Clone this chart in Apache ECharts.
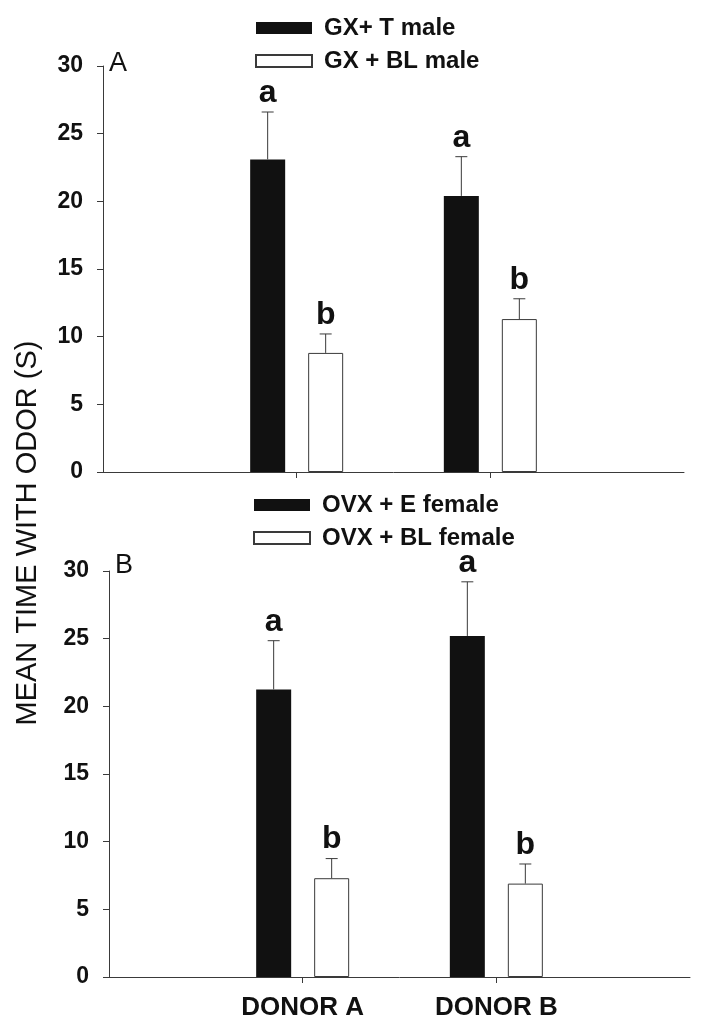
<!DOCTYPE html>
<html>
<head>
<meta charset="utf-8">
<style>
  html, body { margin: 0; padding: 0; background: #fff; }
  #chart { width: 704px; height: 1029px; }
</style>
<script src="https://cdn.jsdelivr.net/npm/echarts@6/dist/echarts.min.js"></script>
</head>
<body>
<div id="chart"></div>
<script>
// ---------- data ----------
const categories = ['DONOR A', 'DONOR B'];
const yMin = 0, yMax = 30, yStep = 5;

// Panel A (males)
const seriesANames = ['GX+ T male', 'GX + BL male'];
const gxT_mean  = [23.1, 20.4];
const gxT_sem   = [3.5, 2.9];
const gxBL_mean = [8.8, 11.3];
const gxBL_sem  = [1.4, 1.5];
const lettersA_T  = ['a', 'a'];
const lettersA_BL = ['b', 'b'];

// Panel B (females)
const seriesBNames = ['OVX + E female', 'OVX + BL female'];
const ovxE_mean  = [21.25, 25.2];
const ovxE_sem   = [3.6, 4.0];
const ovxBL_mean = [7.3, 6.9];
const ovxBL_sem  = [1.45, 1.45];
const lettersB_E  = ['a', 'a'];
const lettersB_BL = ['b', 'b'];

const yTitle = 'MEAN TIME WITH ODOR (S)';

// ---------- styling ----------
const FONT = '"Liberation Sans", Arial, sans-serif';
const INK = '#111';
const AXIS = '#3a3a3a';
const BAR_W = 35, BAR_GAP = 23;
const OFFSET = (BAR_W + BAR_GAP) / 2;

// padded category axis: empty slots at both ends
const axisCats = [''].concat(categories, ['']);
const pad = arr => [null].concat(arr, [null]);
const isReal = i => i >= 1 && i <= categories.length;

function xAxisFor(gridIndex, showLabels) {
  return {
    type: 'category', gridIndex, data: axisCats, boundaryGap: false,
    axisLine: { lineStyle: { color: AXIS, width: 1 } },
    axisTick: { show: true, length: 6, interval: (i) => isReal(i), lineStyle: { color: AXIS } },
    axisLabel: {
      show: showLabels, interval: (i) => isReal(i), margin: 18,
      color: INK, fontFamily: FONT, fontWeight: 'bold', fontSize: 26
    },
    splitLine: { show: false }
  };
}
function yAxisFor(gridIndex) {
  return {
    type: 'value', gridIndex, min: yMin, max: yMax, interval: yStep,
    axisLine: { show: true, lineStyle: { color: AXIS, width: 1 } },
    axisTick: { show: true, length: 6, lineStyle: { color: AXIS } },
    axisLabel: { margin: 20, color: INK, fontFamily: FONT, fontWeight: 'bold', fontSize: 23 },
    splitLine: { show: false }
  };
}

function barSeries(name, values, idx, white) {
  return {
    name, type: 'bar', xAxisIndex: idx, yAxisIndex: idx,
    data: pad(values), barWidth: BAR_W, barGap: (BAR_GAP / BAR_W * 100) + '%',
    itemStyle: white
      ? { color: '#fff', borderColor: AXIS, borderWidth: 1 }
      : { color: INK, borderColor: INK, borderWidth: 0 },
    emphasis: { disabled: true }, z: 2
  };
}

function errSeries(means, sems, letters, idx, sign) {
  const data = categories.map((c, i) => [i + 1, means[i], sems[i]]);
  return {
    type: 'custom', xAxisIndex: idx, yAxisIndex: idx, z: 5, silent: true,
    data,
    renderItem: function (params, api) {
      const ci = api.value(0), m = api.value(1), s = api.value(2);
      const base = api.coord([ci, m]);
      const top = api.coord([ci, m + s]);
      const x = base[0] + sign * OFFSET;
      const cap = 6;
      return {
        type: 'group',
        children: [
          { type: 'line', shape: { x1: x, y1: base[1], x2: x, y2: top[1] }, style: { stroke: AXIS, lineWidth: 1 } },
          { type: 'line', shape: { x1: x - cap, y1: top[1], x2: x + cap, y2: top[1] }, style: { stroke: AXIS, lineWidth: 1 } },
          { type: 'text', style: {
              text: letters[params.dataIndex], x: x, y: top[1] - 3,
              align: 'center', verticalAlign: 'bottom',
              fontFamily: FONT, fontWeight: 'bold', fontSize: 32, fill: INK } }
        ]
      };
    }
  };
}

function legendFor(names, left, top) {
  return {
    data: names, orient: 'vertical', left, top, padding: 0,
    icon: 'rect', itemWidth: 56, itemHeight: 12, itemGap: 9,
    selectedMode: false,
    textStyle: { color: INK, fontFamily: FONT, fontWeight: 'bold', fontSize: 24, lineHeight: 24, padding: [0, 0, 0, 7] }
  };
}

const chart = echarts.init(document.getElementById('chart'), null, { renderer: 'canvas' });
chart.setOption({
  animation: false,
  backgroundColor: '#fff',
  title: [
    { text: 'A', left: 104, top: 45, textStyle: { color: INK, fontFamily: FONT, fontWeight: 'normal', fontSize: 27 } },
    { text: 'B', left: 110, top: 547, textStyle: { color: INK, fontFamily: FONT, fontWeight: 'normal', fontSize: 27 } }
  ],
  legend: [legendFor(seriesANames, 255, 16), legendFor(seriesBNames, 253, 493)],
  grid: [
    { left: 103, right: 20, top: 66, height: 406, outerBoundsMode: 'none' },
    { left: 109, right: 14, top: 571, height: 406, outerBoundsMode: 'none' }
  ],
  xAxis: [xAxisFor(0, false), xAxisFor(1, true)],
  yAxis: [yAxisFor(0), yAxisFor(1)],
  graphic: [{
    type: 'text', x: 28, y: 533, rotation: Math.PI / 2,
    style: { text: yTitle, align: 'center', verticalAlign: 'middle', fontFamily: FONT, fontSize: 29, fill: INK }
  }],
  series: [
    barSeries(seriesANames[0], gxT_mean, 0, false),
    barSeries(seriesANames[1], gxBL_mean, 0, true),
    errSeries(gxT_mean, gxT_sem, lettersA_T, 0, -1),
    errSeries(gxBL_mean, gxBL_sem, lettersA_BL, 0, 1),
    barSeries(seriesBNames[0], ovxE_mean, 1, false),
    barSeries(seriesBNames[1], ovxBL_mean, 1, true),
    errSeries(ovxE_mean, ovxE_sem, lettersB_E, 1, -1),
    errSeries(ovxBL_mean, ovxBL_sem, lettersB_BL, 1, 1)
  ]
});
</script>
</body>
</html>
